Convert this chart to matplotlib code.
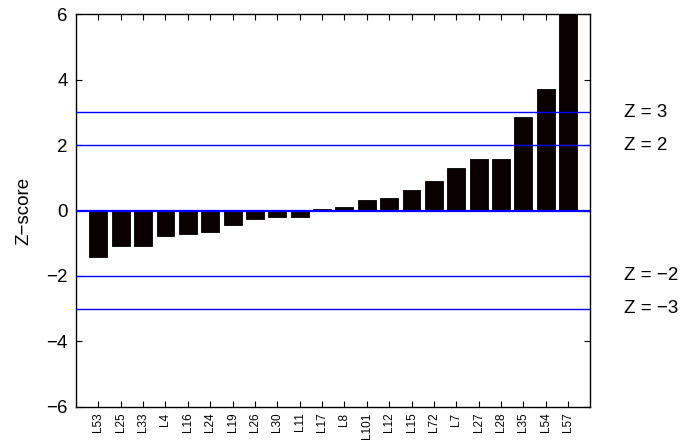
import matplotlib
matplotlib.use("Agg")
import matplotlib.pyplot as plt
import numpy as np

plt.rcParams.update({
    "font.family": ["Liberation Sans", "DejaVu Sans"],
    "axes.unicode_minus": True,
})

# ── Data ──────────────────────────────────────────────────────────────────────
labels = ["L53", "L25", "L33", "L4", "L16", "L24", "L19", "L26", "L30", "L11",
          "L17", "L8", "L101", "L12", "L15", "L72", "L7", "L27", "L28", "L35",
          "L54", "L57"]
zscores = [-1.43, -1.07, -1.07, -0.79, -0.73, -0.65, -0.43, -0.25, -0.20, -0.20,
           0.05, 0.10, 0.33, 0.37, 0.62, 0.91, 1.30, 1.56, 1.56, 2.84,
           3.71, 6.40]
thresholds = [3, 2, -2, -3]
yticks = [-6, -4, -2, 0, 2, 4, 6]

# ── Figure ───────────────────────────────────────────────────────────────────
fig = plt.figure(figsize=(6.87, 4.42), dpi=100)
ax = fig.add_axes([0.1106, 0.0792, 0.7489, 0.8891])

x = np.arange(1, len(labels) + 1)
ax.bar(x, zscores, width=0.8, color="#0a0000", edgecolor="black",
       linewidth=0.6, zorder=2)

ax.axhline(0, color="#0000ff", linewidth=1.6, zorder=3)
for t in thresholds:
    ax.axhline(t, color="#0000ff", linewidth=1.0, zorder=3)
    ax.text(1.066, t, f"Z = {t}".replace("-", "\u2212"), transform=ax.get_yaxis_transform(),
            va="center", ha="left", fontsize=13.5)

ax.set_xlim(0, len(labels) + 1)
ax.set_ylim(-6, 6)
ax.set_yticks(yticks)
ax.set_xticks(x)
ax.set_xticklabels(labels, rotation=90, fontsize=8.5)
ax.tick_params(axis="y", labelsize=13.5, direction="in", length=4,
               right=True, width=0.8, pad=6)
ax.tick_params(axis="x", direction="in", length=4, top=True, width=0.8, pad=4)
ax.set_ylabel("Z\u2212score", fontsize=13.5, labelpad=10)

for s in ax.spines.values():
    s.set_linewidth(1.0)

fig.savefig("out.png", dpi=100)
